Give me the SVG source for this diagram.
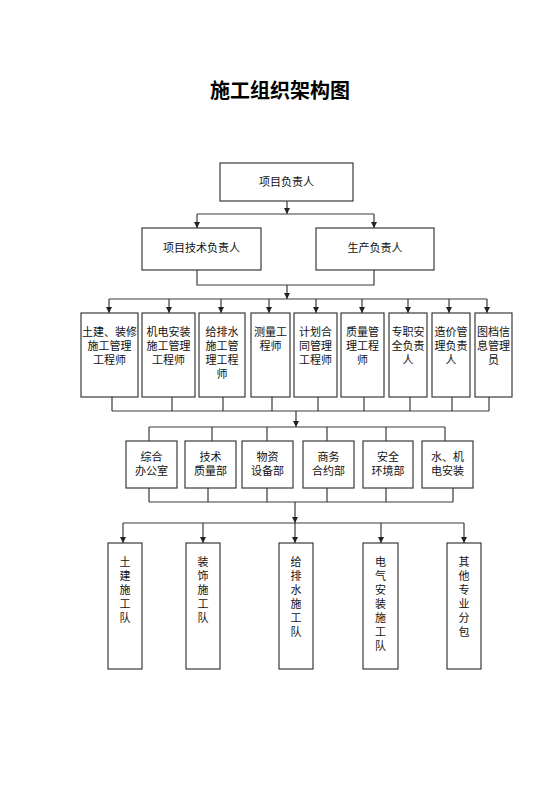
<svg xmlns="http://www.w3.org/2000/svg" width="560" height="792" viewBox="0 0 560 792">
<style>
.box{fill:#fff;stroke:#3a3a3a;stroke-width:1.2}
.t{font-family:"Liberation Sans","Noto Sans CJK SC",sans-serif;font-size:11px;fill:#111;text-anchor:middle;dominant-baseline:central}
.title{font-family:"Liberation Sans","Noto Sans CJK SC",sans-serif;font-size:20px;font-weight:bold;fill:#000;text-anchor:middle;dominant-baseline:central}
.ln{fill:none;stroke:#3a3a3a;stroke-width:1.2}
.ar{fill:none;stroke:#3a3a3a;stroke-width:1.2;marker-end:url(#ah)}
</style>
<defs>
<marker id="ah" markerUnits="userSpaceOnUse" markerWidth="7" markerHeight="7" refX="6" refY="3" orient="auto">
<path d="M0,0 L6,3 L0,6 z" fill="#222"/>
</marker>
</defs>
<rect width="560" height="792" fill="#fff"/>
<text class="title" x="280" y="91">施工组织架构图</text>

<g id="connectors">
<path class="ar" d="M287,201 V214"/>
<path class="ln" d="M197,214 H374"/>
<path class="ar" d="M197,214 V228"/>
<path class="ar" d="M374,214 V228"/>
<path class="ln" d="M197,270 V285 H374 V270"/>
<path class="ar" d="M287,285 V299"/>
<path class="ln" d="M109,299 H487"/>
<path class="ar" d="M109,299 V313"/>
<path class="ar" d="M169,299 V313"/>
<path class="ar" d="M221,299 V313"/>
<path class="ar" d="M269,299 V313"/>
<path class="ar" d="M316,299 V313"/>
<path class="ar" d="M362,299 V313"/>
<path class="ar" d="M408,299 V313"/>
<path class="ar" d="M449,299 V313"/>
<path class="ar" d="M487,299 V313"/>
<path class="ln" d="M112,397 V411 M172,397 V411 M223,397 V411 M272,397 V411 M318,397 V411 M364,397 V411 M410,397 V411 M452,397 V411 M489,397 V411 M112,411 H489"/>
<path class="ar" d="M296,411 V427"/>
<path class="ln" d="M149,427 H445 M149,427 V441 M212,427 V441 M267,427 V441 M327,427 V441 M386,427 V441 M445,427 V441"/>
<path class="ln" d="M149,488 V502 M208,488 V502 M267,488 V502 M327,488 V502 M386,488 V502 M453,488 V502 M149,502 H453"/>
<path class="ar" d="M295,502 V523"/>
<path class="ln" d="M123,523 H464"/>
<path class="ar" d="M123,523 V543"/>
<path class="ar" d="M203,523 V543"/>
<path class="ar" d="M295,523 V543"/>
<path class="ar" d="M381,523 V543"/>
<path class="ar" d="M464,523 V543"/>
</g>

<g id="n-pm"><rect class="box" x="220" y="163" width="133" height="38"/><text class="t" x="286.5" y="182">项目负责人</text></g>
<g id="n-tech"><rect class="box" x="142" y="228" width="119" height="42"/><text class="t" x="201.5" y="248">项目技术负责人</text></g>
<g id="n-prod"><rect class="box" x="316" y="228" width="118" height="42"/><text class="t" x="375" y="248">生产负责人</text></g>

<g id="n-r3-1"><rect class="box" x="81" y="313" width="57" height="84"/><text class="t" y="332"><tspan x="109.5">土建、装修</tspan><tspan x="109.5" dy="14">施工管理</tspan><tspan x="109.5" dy="14">工程师</tspan></text></g>
<g id="n-r3-2"><rect class="box" x="142" y="313" width="53" height="84"/><text class="t" y="332"><tspan x="168.5">机电安装</tspan><tspan x="168.5" dy="14">施工管理</tspan><tspan x="168.5" dy="14">工程师</tspan></text></g>
<g id="n-r3-3"><rect class="box" x="199" y="313" width="46" height="84"/><text class="t" y="332"><tspan x="222">给排水</tspan><tspan x="222" dy="14">施工管</tspan><tspan x="222" dy="14">理工程</tspan><tspan x="222" dy="14">师</tspan></text></g>
<g id="n-r3-4"><rect class="box" x="251" y="313" width="39" height="84"/><text class="t" y="332"><tspan x="270.5">测量工</tspan><tspan x="270.5" dy="14">程师</tspan></text></g>
<g id="n-r3-5"><rect class="box" x="294" y="313" width="43" height="84"/><text class="t" y="332"><tspan x="315.5">计划合</tspan><tspan x="315.5" dy="14">同管理</tspan><tspan x="315.5" dy="14">工程师</tspan></text></g>
<g id="n-r3-6"><rect class="box" x="341" y="313" width="43" height="84"/><text class="t" y="332"><tspan x="362.5">质量管</tspan><tspan x="362.5" dy="14">理工程</tspan><tspan x="362.5" dy="14">师</tspan></text></g>
<g id="n-r3-7"><rect class="box" x="389" y="313" width="38" height="84"/><text class="t" y="332"><tspan x="408">专职安</tspan><tspan x="408" dy="14">全负责</tspan><tspan x="408" dy="14">人</tspan></text></g>
<g id="n-r3-8"><rect class="box" x="432" y="313" width="38" height="84"/><text class="t" y="332"><tspan x="451">造价管</tspan><tspan x="451" dy="14">理负责</tspan><tspan x="451" dy="14">人</tspan></text></g>
<g id="n-r3-9"><rect class="box" x="475" y="313" width="37" height="84"/><text class="t" y="332"><tspan x="493.5">图档信</tspan><tspan x="493.5" dy="14">息管理</tspan><tspan x="493.5" dy="14">员</tspan></text></g>

<g id="n-r4-1"><rect class="box" x="126" y="441" width="51" height="47"/><text class="t" y="457"><tspan x="151.5">综合</tspan><tspan x="151.5" dy="14">办公室</tspan></text></g>
<g id="n-r4-2"><rect class="box" x="185" y="441" width="51" height="47"/><text class="t" y="457"><tspan x="210.5">技术</tspan><tspan x="210.5" dy="14">质量部</tspan></text></g>
<g id="n-r4-3"><rect class="box" x="242" y="441" width="51" height="47"/><text class="t" y="457"><tspan x="267.5">物资</tspan><tspan x="267.5" dy="14">设备部</tspan></text></g>
<g id="n-r4-4"><rect class="box" x="303" y="441" width="51" height="47"/><text class="t" y="457"><tspan x="328.5">商务</tspan><tspan x="328.5" dy="14">合约部</tspan></text></g>
<g id="n-r4-5"><rect class="box" x="363" y="441" width="50" height="47"/><text class="t" y="457"><tspan x="388">安全</tspan><tspan x="388" dy="14">环境部</tspan></text></g>
<g id="n-r4-6"><rect class="box" x="422" y="441" width="51" height="47"/><text class="t" y="457"><tspan x="447.5">水、机</tspan><tspan x="447.5" dy="14">电安装</tspan></text></g>

<g id="n-r5-1"><rect class="box" x="108" y="543" width="34" height="126"/><text class="t" y="562"><tspan x="125">土</tspan><tspan x="125" dy="14">建</tspan><tspan x="125" dy="14">施</tspan><tspan x="125" dy="14">工</tspan><tspan x="125" dy="14">队</tspan></text></g>
<g id="n-r5-2"><rect class="box" x="186" y="543" width="34" height="126"/><text class="t" y="562"><tspan x="203">装</tspan><tspan x="203" dy="14">饰</tspan><tspan x="203" dy="14">施</tspan><tspan x="203" dy="14">工</tspan><tspan x="203" dy="14">队</tspan></text></g>
<g id="n-r5-3"><rect class="box" x="279" y="543" width="34" height="126"/><text class="t" y="562"><tspan x="296">给</tspan><tspan x="296" dy="14">排</tspan><tspan x="296" dy="14">水</tspan><tspan x="296" dy="14">施</tspan><tspan x="296" dy="14">工</tspan><tspan x="296" dy="14">队</tspan></text></g>
<g id="n-r5-4"><rect class="box" x="363" y="543" width="35" height="126"/><text class="t" y="562"><tspan x="380.5">电</tspan><tspan x="380.5" dy="14">气</tspan><tspan x="380.5" dy="14">安</tspan><tspan x="380.5" dy="14">装</tspan><tspan x="380.5" dy="14">施</tspan><tspan x="380.5" dy="14">工</tspan><tspan x="380.5" dy="14">队</tspan></text></g>
<g id="n-r5-5"><rect class="box" x="447" y="543" width="34" height="126"/><text class="t" y="562"><tspan x="464">其</tspan><tspan x="464" dy="14">他</tspan><tspan x="464" dy="14">专</tspan><tspan x="464" dy="14">业</tspan><tspan x="464" dy="14">分</tspan><tspan x="464" dy="14">包</tspan></text></g>
</svg>
